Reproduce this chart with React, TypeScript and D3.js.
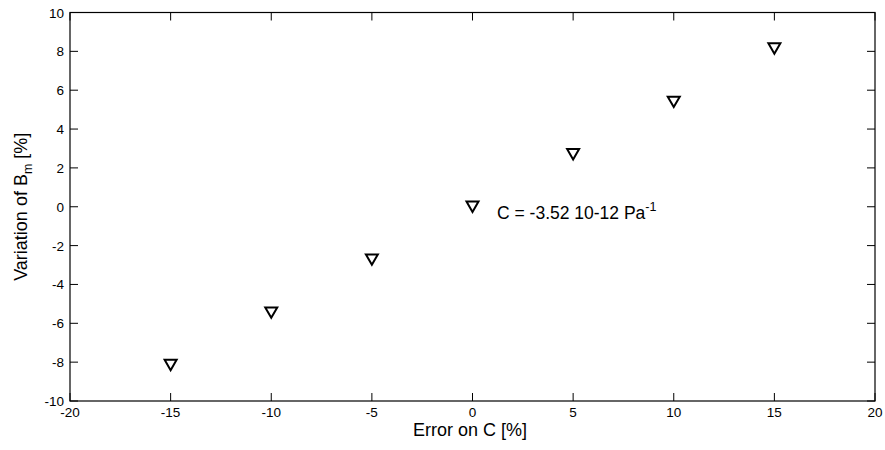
import React from "react";
import * as d3 from "d3";

const errorOnC = [-15, -10, -5, 0, 5, 10, 15];
const variationBm = [-8.15, -5.45, -2.72, 0, 2.7, 5.4, 8.15];
const xTicks = [-20, -15, -10, -5, 0, 5, 10, 15, 20];
const yTicks = [-10, -8, -6, -4, -2, 0, 2, 4, 6, 8, 10];

const W = 885, H = 450;
const M = { left: 70, right: 10, top: 12.5, bottom: 49 };

export default function App() {
  const x = d3.scaleLinear().domain([-20, 20]).range([M.left, W - M.right]);
  const y = d3.scaleLinear().domain([-10, 10]).range([H - M.bottom, M.top]);
  const tick = 8;
  const font = "'Liberation Sans', Arial, sans-serif";
  const tri = (cx: number, cy: number) => {
    const w = 6, h = 5.2;
    return `M${cx - w},${cy - h}L${cx + w},${cy - h}L${cx},${cy + h}Z`;
  };
  const x0 = x(-20), x1 = x(20), y0 = y(-10), y1 = y(10);
  return (
    <svg width={W} height={H} style={{ position: "absolute", left: 0, top: 0, background: "#fff" }} fontFamily={font}>
      <rect x={0} y={0} width={W} height={H} fill="#fff" />
      {xTicks.map((t) => (
        <g key={"x" + t}>
          <line x1={x(t)} x2={x(t)} y1={y0} y2={y0 - tick} stroke="#000" />
          <line x1={x(t)} x2={x(t)} y1={y1} y2={y1 + tick} stroke="#000" />
          <text x={x(t)} y={y0 + 16} fontSize={13.5} textAnchor="middle">{t}</text>
        </g>
      ))}
      {yTicks.map((t) => (
        <g key={"y" + t}>
          <line x1={x0} x2={x0 + tick} y1={y(t)} y2={y(t)} stroke="#000" />
          <line x1={x1} x2={x1 - tick} y1={y(t)} y2={y(t)} stroke="#000" />
          <text x={x0 - 6} y={y(t) + 5} fontSize={13.5} textAnchor="end">{t}</text>
        </g>
      ))}
      <rect x={x0} y={y1} width={x1 - x0} height={y0 - y1} fill="none" stroke="#000" strokeWidth={1.2} />
      {errorOnC.map((e, i) => (
        <path key={i} d={tri(x(e), y(variationBm[i]))} fill="none" stroke="#000" strokeWidth={2} strokeLinejoin="miter" />
      ))}
      <text x={497} y={219} fontSize={17.5}>
        C = -3.52 10-12 Pa<tspan dy={-8} fontSize={12.5}>-1</tspan>
      </text>
      <text x={470} y={436} fontSize={18} textAnchor="middle">Error on C [%]</text>
      <text transform={`translate(27,${(y0 + y1) / 2}) rotate(-90)`} fontSize={18} textAnchor="middle">
        Variation of B<tspan dy={5} fontSize={12.5}>m</tspan><tspan dy={-5}> [%]</tspan>
      </text>
    </svg>
  );
}
